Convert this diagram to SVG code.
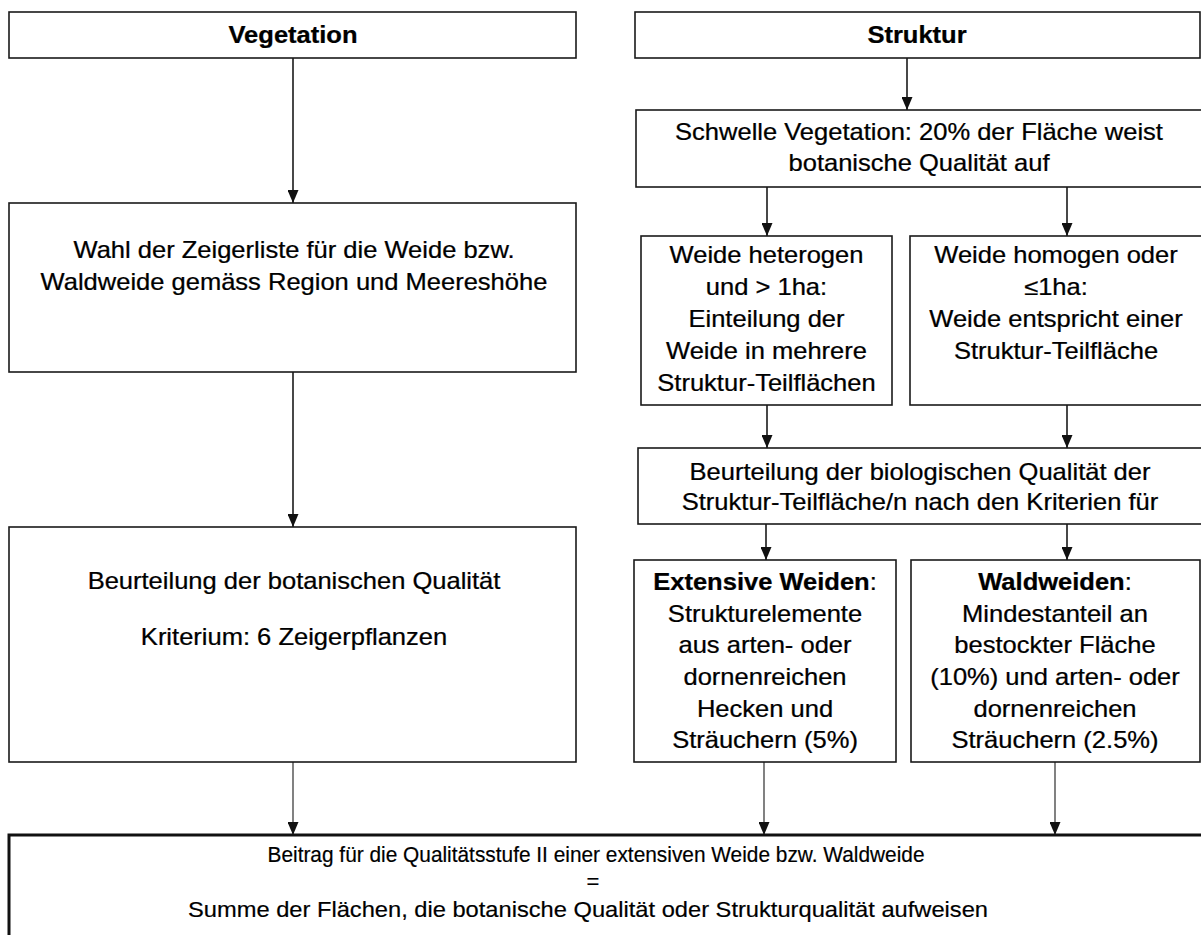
<svg xmlns="http://www.w3.org/2000/svg" width="1201" height="935" viewBox="0 0 1201 935">
  <defs>
    <style>
      .box { fill: #ffffff; stroke: #1a1a1a; stroke-width: 1.6; }
      .boxb { fill: #ffffff; stroke: #111111; stroke-width: 3; }
      .t { font-family: "Liberation Sans", Arial, sans-serif; font-size: 23px; fill: #000000; stroke: #000000; stroke-width: 0.25; text-anchor: middle; }
      .tb { font-family: "Liberation Sans", Arial, sans-serif; font-size: 22px; fill: #000000; stroke: #000000; stroke-width: 0.2; text-anchor: middle; }
      .b { font-weight: bold; }
      .c { stroke: #1a1a1a; stroke-width: 1.6; fill: none; marker-end: url(#ah); }
      .c1 { stroke: #1a1a1a; stroke-width: 1.1; fill: none; marker-end: url(#ah); }
    </style>
    <marker id="ah" markerUnits="userSpaceOnUse" viewBox="0 0 13 11" markerWidth="13" markerHeight="11" refX="13" refY="5.5" orient="auto">
      <path d="M0,0 L13,5.5 L0,11 Z" fill="#111111"/>
    </marker>
  </defs>
  <rect width="1201" height="935" fill="#ffffff"/>

  <g id="connectors">
    <line class="c" x1="293" y1="58" x2="293" y2="203"/>
    <line class="c" x1="293" y1="372" x2="293" y2="527"/>
    <line class="c1" x1="293" y1="762" x2="293" y2="835"/>
    <line class="c" x1="907" y1="58" x2="907" y2="110"/>
    <line class="c" x1="767" y1="187" x2="767" y2="236"/>
    <line class="c" x1="1067" y1="187" x2="1067" y2="236"/>
    <line class="c" x1="767" y1="405" x2="767" y2="448"/>
    <line class="c" x1="1067" y1="405" x2="1067" y2="448"/>
    <line class="c" x1="766" y1="524" x2="766" y2="560"/>
    <line class="c" x1="1067" y1="524" x2="1067" y2="560"/>
    <line class="c1" x1="764" y1="762" x2="764" y2="835"/>
    <line class="c1" x1="1055" y1="762" x2="1055" y2="835"/>
  </g>

  <g id="n-vegetation">
    <rect class="box" x="9" y="12" width="567" height="46"/>
    <text class="t b" transform="translate(293 0) scale(1.11 1)" x="0" y="43">Vegetation</text>
  </g>

  <g id="n-struktur">
    <rect class="box" x="635" y="12" width="565" height="46"/>
    <text class="t b" transform="translate(917 0) scale(1.11 1)" x="0" y="43">Struktur</text>
  </g>

  <g id="n-zeigerliste">
    <rect class="box" x="9" y="203" width="567" height="169"/>
    <g transform="translate(294 0) scale(1.11 1)">
      <text class="t" x="0" y="258">Wahl der Zeigerliste für die Weide bzw.</text>
      <text class="t" x="0" y="290">Waldweide gemäss Region und Meereshöhe</text>
    </g>
  </g>

  <g id="n-botanisch">
    <rect class="box" x="9" y="527" width="567" height="235"/>
    <g transform="translate(294 0) scale(1.11 1)">
      <text class="t" x="0" y="589">Beurteilung der botanischen Qualität</text>
      <text class="t" x="0" y="645">Kriterium: 6 Zeigerpflanzen</text>
    </g>
  </g>

  <g id="n-schwelle">
    <rect class="box" x="636" y="110" width="567" height="77"/>
    <g transform="translate(919 0) scale(1.11 1)">
      <text class="t" x="0" y="140">Schwelle Vegetation: 20% der Fläche weist</text>
      <text class="t" x="0" y="171">botanische Qualität auf</text>
    </g>
  </g>

  <g id="n-heterogen">
    <rect class="box" x="641" y="236" width="251" height="169"/>
    <g transform="translate(766.5 0) scale(1.11 1)">
      <text class="t" x="0" y="263">Weide heterogen</text>
      <text class="t" x="0" y="295">und &gt; 1ha:</text>
      <text class="t" x="0" y="327">Einteilung der</text>
      <text class="t" x="0" y="359">Weide in mehrere</text>
      <text class="t" x="0" y="391">Struktur-Teilflächen</text>
    </g>
  </g>

  <g id="n-homogen">
    <rect class="box" x="910" y="236" width="293" height="169"/>
    <g transform="translate(1056 0) scale(1.11 1)">
      <text class="t" x="0" y="263">Weide homogen oder</text>
      <text class="t" x="0" y="295">≤1ha:</text>
      <text class="t" x="0" y="327">Weide entspricht einer</text>
      <text class="t" x="0" y="359">Struktur-Teilfläche</text>
    </g>
  </g>

  <g id="n-biologisch">
    <rect class="box" x="638" y="448" width="565" height="76"/>
    <g transform="translate(920 0) scale(1.11 1)">
      <text class="t" x="0" y="480">Beurteilung der biologischen Qualität der</text>
      <text class="t" x="0" y="510">Struktur-Teilfläche/n nach den Kriterien für</text>
    </g>
  </g>

  <g id="n-extensiv">
    <rect class="box" x="634" y="560" width="262" height="202"/>
    <g transform="translate(765 0) scale(1.11 1)">
      <text class="t" x="0" y="590"><tspan class="b">Extensive Weiden</tspan>:</text>
      <text class="t" x="0" y="622">Strukturelemente</text>
      <text class="t" x="0" y="653">aus arten- oder</text>
      <text class="t" x="0" y="685">dornenreichen</text>
      <text class="t" x="0" y="717">Hecken und</text>
      <text class="t" x="0" y="748">Sträuchern (5%)</text>
    </g>
  </g>

  <g id="n-waldweiden">
    <rect class="box" x="911" y="560" width="289" height="202"/>
    <g transform="translate(1055 0) scale(1.11 1)">
      <text class="t" x="0" y="590"><tspan class="b">Waldweiden</tspan>:</text>
      <text class="t" x="0" y="622">Mindestanteil an</text>
      <text class="t" x="0" y="653">bestockter Fläche</text>
      <text class="t" x="0" y="685">(10%) und arten- oder</text>
      <text class="t" x="0" y="717">dornenreichen</text>
      <text class="t" x="0" y="748">Sträuchern (2.5%)</text>
    </g>
  </g>

  <g id="n-beitrag">
    <rect class="boxb" x="9" y="835" width="1196" height="110"/>
    <text class="tb" x="596" y="862" textLength="657" lengthAdjust="spacingAndGlyphs">Beitrag für die Qualitätsstufe II einer extensiven Weide bzw. Waldweide</text>
    <text class="tb" x="593" y="889">=</text>
    <text class="tb" x="588" y="917" textLength="800" lengthAdjust="spacingAndGlyphs">Summe der Flächen, die botanische Qualität oder Strukturqualität aufweisen</text>
  </g>
</svg>
